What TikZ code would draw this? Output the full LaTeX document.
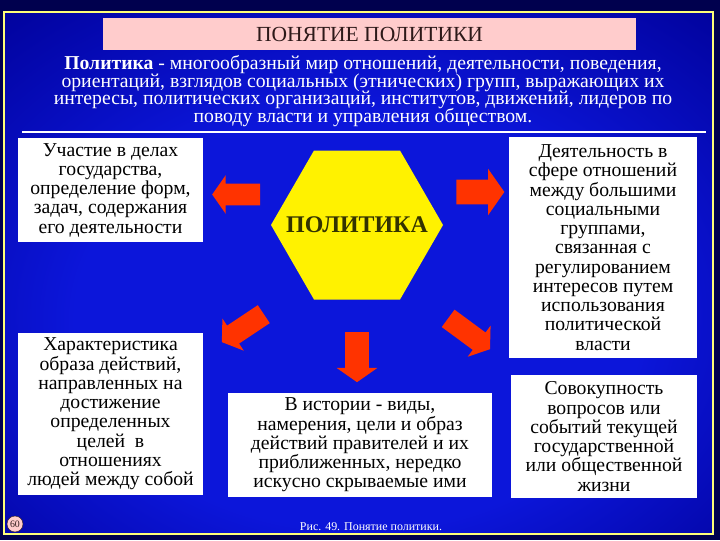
\documentclass[tikz,border=0pt]{standalone}
\usepackage{fontspec}
\setmainfont{Liberation Serif}
\usetikzlibrary{positioning, shapes.geometric, shapes.arrows}

\definecolor{navy}{RGB}{0,0,78}
\definecolor{deepblue}{RGB}{0,0,150}
\definecolor{slideblue}{RGB}{12,22,218}
\definecolor{titlepink}{RGB}{255,204,204}
\definecolor{arrowred}{RGB}{255,51,0}
\definecolor{framey}{RGB}{255,255,120}
\definecolor{olivetext}{RGB}{51,51,0}
\definecolor{browntext}{RGB}{45,25,25}

\newcommand{\tightlines}{\lineskiplimit-20pt\relax}

\pgfdeclareradialshading{slidebg}{\pgfpoint{0bp}{-6bp}}{color(0bp)=(slideblue); color(20bp)=(slideblue); color(40bp)=(deepblue); color(62bp)=(navy); color(80bp)=(navy)}

\begin{document}
\begin{tikzpicture}[x=0.025cm, y=-0.025cm, node distance=2cm, on grid,
    textbox/.style={fill=white, text=black, align=center, inner sep=0pt,
      font=\fontsize{14}{13.7}\selectfont\tightlines},
    bigarrow/.style={single arrow, fill=arrowred, inner xsep=0pt, inner ysep=0.2625cm,
      minimum width=0.95cm, single arrow head extend=0.2125cm,
      single arrow tip angle=110, minimum height=1.2cm}]
  % background and frame
  \fill[navy] (0,0) rectangle (720,540);
  \shade[shading=slidebg] (4,12) rectangle (713,534);
  \draw[framey, line width=1.2pt] (4,12) rectangle (713,534);

  % title and definition
  \node[fill=titlepink, minimum width=13.325cm, minimum height=0.8cm, inner sep=0pt,
    text=browntext, font=\fontsize{15.3}{17}\selectfont] (title) at (369.5,34) {ПОНЯТИЕ ПОЛИТИКИ};
  \node[text=white, align=center, inner sep=0pt,
    font=\fontsize{14}{12.6}\selectfont\tightlines] (defn) at (363,91)
    {\textbf{Политика} - многообразный мир отношений, деятельности, поведения,\\
     ориентаций, взглядов социальных (этнических) групп, выражающих их\\
     интересы, политических организаций, институтов, движений, лидеров по\\
     поводу власти и управления обществом.};
  \draw[white, line width=0.8pt] (22,132) -- (706,132);

  % centre
  \node[regular polygon, regular polygon sides=6, minimum size=4.3cm, inner sep=0pt,
    fill=yellow] (hex) at (357,225) {};
  \node[text=olivetext, font=\fontsize{17}{20}\selectfont\bfseries] (hexlbl) at (hex.center) {ПОЛИТИКА};

  % boxes
  \node[textbox, minimum width=4.625cm, minimum height=2.6cm] (part) at (110.5,190)
    {Участие в делах\\государства,\\определение форм,\\задач, содержания\\его деятельности};
  \node[textbox, minimum width=4.625cm, minimum height=4.05cm] (style) at (110.5,414)
    {Характеристика\\образа действий,\\направленных на\\достижение\\определенных\\целей~ в\\отношениях\\людей между собой};
  \node[textbox, minimum width=6.6cm, minimum height=2.6cm] (hist) at (360,445)
    {В истории - виды,\\намерения, цели и образ\\действий правителей и их\\приближенных, нередко\\искусно скрываемые ими};
  \node[textbox, minimum width=4.7cm, minimum height=5.525cm] (activ) at (603,247.5)
    {Деятельность в\\сфере отношений\\между большими\\социальными\\группами,\\связанная с\\регулированием\\интересов путем\\использования\\политической\\власти};
  \node[textbox, minimum width=4.65cm, minimum height=3.075cm] (issues) at (604,436.5)
    {Совокупность\\вопросов или\\событий текущей\\государственной\\или общественной\\жизни};

  % arrows round the hexagon
  \node[bigarrow, rotate=180] (arrL) [above left=0.7625cm and 2.925cm of hex] {};
  \node[bigarrow, inner ysep=0.3cm, minimum width=1.15cm, single arrow head extend=0.275cm] (arrR) [above right=0.825cm and 2.975cm of hex] {};
  \node[bigarrow, rotate=213.7, minimum height=1.26cm] (arrLL) [below left=2.525cm and 2.775cm of hex] {};
  \node[bigarrow, rotate=-90, minimum height=1.25cm, inner ysep=0.2875cm, minimum width=1.0cm, single arrow head extend=0.2125cm] (arrD) [below=3.2cm of hex] {};
  \node[bigarrow, rotate=-36.4, minimum height=1.3cm] (arrLR) [below right=2.6625cm and 2.725cm of hex] {};

  % caption and page number
  \node[text=white, inner sep=0pt, font=\fontsize{8.5}{10}\selectfont] (caption) at (371,527) {Рис. 49. Понятие политики.};
  \node[circle, fill=titlepink, draw=browntext, line width=0.3pt, minimum size=0.4cm, inner sep=0pt,
    text=browntext, font=\fontsize{7}{8}\selectfont] (pgnum) at (15,524) {60};
\end{tikzpicture}
\end{document}
